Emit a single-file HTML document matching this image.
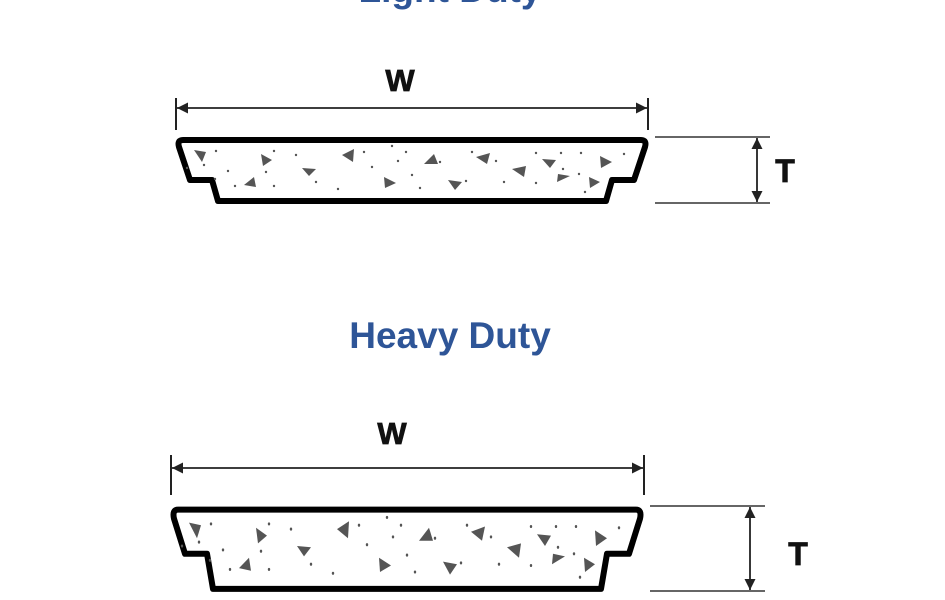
<!DOCTYPE html>
<html><head><meta charset="utf-8"><style>
html,body{margin:0;padding:0;background:#fff;}
svg{display:block;}
text{font-family:"Liberation Sans",sans-serif;font-weight:bold;}
</style></head><body>
<svg width="945" height="600" viewBox="0 0 945 600">
<defs>
<marker id="ar" viewBox="0 0 10 10" refX="10" refY="5" markerWidth="15" markerHeight="11" orient="auto-start-reverse" markerUnits="userSpaceOnUse"><path d="M0,0 L10,5 L0,10 Z" fill="#222"/></marker>
<g id="fill">
<polygon points="18,12 30,14 26,24" fill="#555"/>
<polygon points="85,16 96,22 87,28" fill="#555"/>
<polygon points="166,17 178,11 177,24" fill="#555"/>
<polygon points="126,30 140,31 133,38" fill="#555"/>
<polygon points="68,47 78,39 80,49" fill="#555"/>
<polygon points="208,39 220,45 209,50" fill="#555"/>
<polygon points="248,26 258,16 262,26" fill="#555"/>
<polygon points="272,42 286,44 279,52" fill="#555"/>
<polygon points="300,19 314,15 311,26" fill="#555"/>
<polygon points="336,31 350,28 348,39" fill="#555"/>
<polygon points="366,21 380,22 374,30" fill="#555"/>
<polygon points="424,18 436,24 425,30" fill="#555"/>
<polygon points="413,39 424,44 414,50" fill="#555"/>
<polygon points="382,36 394,38 381,44" fill="#555"/>
<g fill="#555">
<circle cx="40" cy="13" r="1.2"/><circle cx="98" cy="13" r="1.2"/><circle cx="120" cy="17" r="1.2"/><circle cx="11" cy="30" r="1.2"/><circle cx="28" cy="27" r="1.2"/><circle cx="52" cy="33" r="1.2"/><circle cx="90" cy="34" r="1.2"/><circle cx="39" cy="41" r="1.2"/><circle cx="59" cy="48" r="1.2"/><circle cx="98" cy="48" r="1.2"/><circle cx="140" cy="44" r="1.2"/><circle cx="162" cy="51" r="1.2"/><circle cx="188" cy="14" r="1.2"/><circle cx="196" cy="29" r="1.2"/><circle cx="230" cy="14" r="1.2"/><circle cx="222" cy="23" r="1.2"/><circle cx="236" cy="37" r="1.2"/><circle cx="244" cy="50" r="1.2"/><circle cx="264" cy="24" r="1.2"/><circle cx="296" cy="14" r="1.2"/><circle cx="290" cy="43" r="1.2"/><circle cx="320" cy="23" r="1.2"/><circle cx="328" cy="44" r="1.2"/><circle cx="360" cy="15" r="1.2"/><circle cx="385" cy="15" r="1.2"/><circle cx="387" cy="31" r="1.2"/><circle cx="405" cy="15" r="1.2"/><circle cx="403" cy="36" r="1.2"/><circle cx="409" cy="54" r="1.2"/><circle cx="448" cy="16" r="1.2"/><circle cx="360" cy="45" r="1.2"/><circle cx="216" cy="8" r="1.2"/>
</g>
</g>
</defs>
<text x="450" y="2" text-anchor="middle" font-size="37" fill="#2e5597">Light Duty</text>
<text x="450" y="348" text-anchor="middle" font-size="37" fill="#2e5597">Heavy Duty</text>

<g>
<text x="400" y="91" text-anchor="middle" font-size="31" fill="#111" stroke="#111" stroke-width="0.8">W</text>
<line x1="176" y1="98" x2="176" y2="130" stroke="#222" stroke-width="2"/>
<line x1="648" y1="98" x2="648" y2="130" stroke="#222" stroke-width="2"/>
<line x1="177" y1="108" x2="647" y2="108" stroke="#222" stroke-width="1.8" marker-start="url(#ar)" marker-end="url(#ar)"/>
<g transform="translate(176,138)">
<path d="M7,2 Q1,2 3,9 L14,42 L36,42 L42,63 L430,63 L436,42 L458,42 L469,9 Q471,2 465,2 Z" fill="#fff" stroke="#000" stroke-width="6" stroke-linejoin="round"/>
<use href="#fill"/>
</g>
<line x1="655" y1="137" x2="770" y2="137" stroke="#333" stroke-width="1.6"/>
<line x1="655" y1="203" x2="770" y2="203" stroke="#333" stroke-width="1.6"/>
<line x1="757" y1="138" x2="757" y2="202" stroke="#222" stroke-width="1.8" marker-start="url(#ar)" marker-end="url(#ar)"/>
<text x="785" y="182" text-anchor="middle" font-size="32" fill="#111" stroke="#111" stroke-width="0.8">T</text>
</g>

<g>
<text x="392" y="444" text-anchor="middle" font-size="31" fill="#111" stroke="#111" stroke-width="0.8">W</text>
<line x1="171" y1="455" x2="171" y2="495" stroke="#222" stroke-width="2"/>
<line x1="644" y1="455" x2="644" y2="495" stroke="#222" stroke-width="2"/>
<line x1="172" y1="468" x2="643" y2="468" stroke="#222" stroke-width="1.8" marker-start="url(#ar)" marker-end="url(#ar)"/>
<g transform="translate(171,507) scale(1,1.3)">
<path d="M7,2 Q1,2 3,9 L14,36 L36,36 L42,63 L430,63 L436,36 L458,36 L469,9 Q471,2 465,2 Z" fill="#fff" stroke="#000" stroke-width="6" stroke-linejoin="round" vector-effect="non-scaling-stroke"/>
<use href="#fill"/>
</g>
<line x1="650" y1="506" x2="765" y2="506" stroke="#333" stroke-width="1.6"/>
<line x1="650" y1="591" x2="765" y2="591" stroke="#333" stroke-width="1.6"/>
<line x1="750" y1="507" x2="750" y2="590" stroke="#222" stroke-width="1.8" marker-start="url(#ar)" marker-end="url(#ar)"/>
<text x="798" y="565" text-anchor="middle" font-size="32" fill="#111" stroke="#111" stroke-width="0.8">T</text>
</g>
</svg>
</body></html>
